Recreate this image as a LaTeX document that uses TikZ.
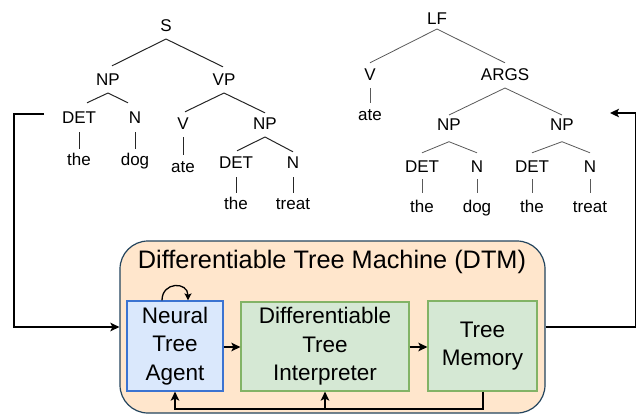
\documentclass[tikz,border=0pt]{standalone}
\usepackage{fontspec}
\setmainfont{Liberation Sans}
\usetikzlibrary{arrows.meta,calc}
\definecolor{peach}{HTML}{FFE6CC}
\definecolor{outerline}{HTML}{23445D}
\definecolor{bluefill}{HTML}{DAE8FC}
\definecolor{blueline}{HTML}{3B73D1}
\definecolor{greenfill}{HTML}{D5E8D4}
\definecolor{greenline}{HTML}{82B366}
\newcommand\tedge[6]{\draw[#1] ($(#2.base)+(0,#4)$) -- ($(#3.north)+(#5,-#6)$);}
\begin{document}
\begin{tikzpicture}[x=1pt,y=-1pt,
  lbl/.style={inner sep=0pt, outer sep=0pt, anchor=base, text height=12.2pt, text depth=0pt, font=\fontsize{17}{20}\selectfont},
  tlineL/.style={line width=1pt, draw=black!85},
  tlineR/.style={line width=0.8pt, draw=black!65},
  box/.style={line width=1.2pt, align=center, inner sep=0pt, font=\fontsize{22.5}{28.5}\selectfont},
  conn/.style={line width=1.6pt, -{Stealth[length=9pt,width=8.5pt,inset=2pt]}},
  plainline/.style={line width=1.6pt}
]
\useasboundingbox (0,0) rectangle (637,416);

% ---------- left tree ----------
\node[lbl] (S) at (166,31) {S};
\node[lbl] (NPa) at (108,85) {NP};
\node[lbl] (VPa) at (224,85) {VP};
\node[lbl] (DETa) at (79,123) {DET};
\node[lbl] (Na) at (135,123) {N};
\node[lbl] (thea) at (79,165) {the};
\node[lbl] (doga) at (135,165) {dog};
\node[lbl] (Va) at (183,129) {V};
\node[lbl] (atea) at (183,172) {ate};
\node[lbl] (NPb) at (265,129) {NP};
\node[lbl] (DETb) at (236,168) {DET};
\node[lbl] (Nb) at (293,168) {N};
\node[lbl] (theb) at (236,209) {the};
\node[lbl] (treatb) at (293,209) {treat};

\tedge{tlineL}{S}{NPa}{8}{4}{7}
\tedge{tlineL}{S}{VPa}{8}{-1}{6}
\tedge{tlineL}{NPa}{DETa}{8}{8}{8}
\tedge{tlineL}{NPa}{Na}{8}{-7}{8}
\tedge{tlineL}{DETa}{thea}{9}{0}{4}
\tedge{tlineL}{Na}{doga}{9}{0}{4}
\tedge{tlineL}{VPa}{Va}{8}{2}{5}
\tedge{tlineL}{VPa}{NPb}{8}{0}{4}
\tedge{tlineL}{Va}{atea}{8}{0}{5}
\tedge{tlineL}{NPb}{DETb}{8}{1}{5}
\tedge{tlineL}{NPb}{Nb}{8}{0}{4}
\tedge{tlineL}{DETb}{theb}{9}{0}{4}
\tedge{tlineL}{Nb}{treatb}{9}{0}{4}

% ---------- right tree ----------
\node[lbl] (LF) at (437,24) {LF};
\node[lbl] (Vr) at (370,80) {V};
\node[lbl] (ARGS) at (505,80) {ARGS};
\node[lbl] (ater) at (370,120.7) {ate};
\node[lbl] (NPc) at (449,130.7) {NP};
\node[lbl] (NPd) at (562,130.7) {NP};
\node[lbl] (DETc) at (422,172) {DET};
\node[lbl] (Nc) at (477,172) {N};
\node[lbl] (DETd) at (532,172) {DET};
\node[lbl] (Nd) at (590,172) {N};
\node[lbl] (thec) at (422,212) {the};
\node[lbl] (dogc) at (477,212) {dog};
\node[lbl] (thed) at (532,212) {the};
\node[lbl] (treatd) at (590,212) {treat};

\tedge{tlineR}{LF}{Vr}{5}{0}{5}
\tedge{tlineR}{LF}{ARGS}{5}{0}{5}
\tedge{tlineR}{Vr}{ater}{8}{0}{5.5}
\tedge{tlineR}{ARGS}{NPc}{8}{0}{3.5}
\tedge{tlineR}{ARGS}{NPd}{8}{0}{3.5}
\tedge{tlineR}{NPc}{DETc}{11}{0}{7}
\tedge{tlineR}{NPc}{Nc}{11}{0}{7}
\tedge{tlineR}{NPd}{DETd}{11}{0}{7}
\tedge{tlineR}{NPd}{Nd}{11}{0}{7}
\tedge{tlineR}{DETc}{thec}{7}{0}{7}
\tedge{tlineR}{Nc}{dogc}{7}{0}{7}
\tedge{tlineR}{DETd}{thed}{7}{0}{7}
\tedge{tlineR}{Nd}{treatd}{7}{0}{7}

% ---------- DTM ----------
\node[draw=outerline, fill=peach, rounded corners=28pt, line width=1.2pt,
      minimum width=425pt, minimum height=172pt, inner sep=0pt] (dtm) at (332.5,327) {};
\node[anchor=base, inner sep=0pt, font=\fontsize{25.3}{28}\selectfont] (title) at (332,268) {Differentiable Tree Machine (DTM)};

\node[box, draw=blueline, fill=bluefill, minimum width=96pt, minimum height=90pt] (nta) at (175,346) {Neural\\Tree\\Agent};
\node[box, draw=greenline, fill=greenfill, minimum width=168pt, minimum height=89pt] (interp) at (325,346.5) {Differentiable\\Tree\\Interpreter};
\node[box, draw=greenline, fill=greenfill, minimum width=109pt, minimum height=90pt] (mem) at (482.5,346) {Tree\\Memory};

\draw[conn] (nta.east |- 0,347) -- (interp.west |- 0,347);
\draw[conn] (interp.east |- 0,347) -- (mem.west |- 0,347);

\draw[line width=1.3pt, -{Stealth[length=7pt,width=7pt,inset=1.5pt]}]
  ($(nta.north)+(-13,0)$) .. controls +(0,-19) and +(0,-19) .. ($(nta.north)+(13,0)$);

\coordinate (fb) at ($(mem.south)+(0,17)$);
\draw[conn, line width=2pt] (mem.south) -- (fb) -| (nta.south);
\draw[conn, line width=2pt] (interp.south |- fb) -- (interp.south);

% ---------- outer connectors ----------
\coordinate (lstart) at (44,114);
\coordinate (rend) at (610,113);
\draw[conn] (lstart) -- ++(-30,0) |- (dtm.west);
\draw[conn] (dtm.east) -- ++(90,0) |- (rend);
\end{tikzpicture}
\end{document}
